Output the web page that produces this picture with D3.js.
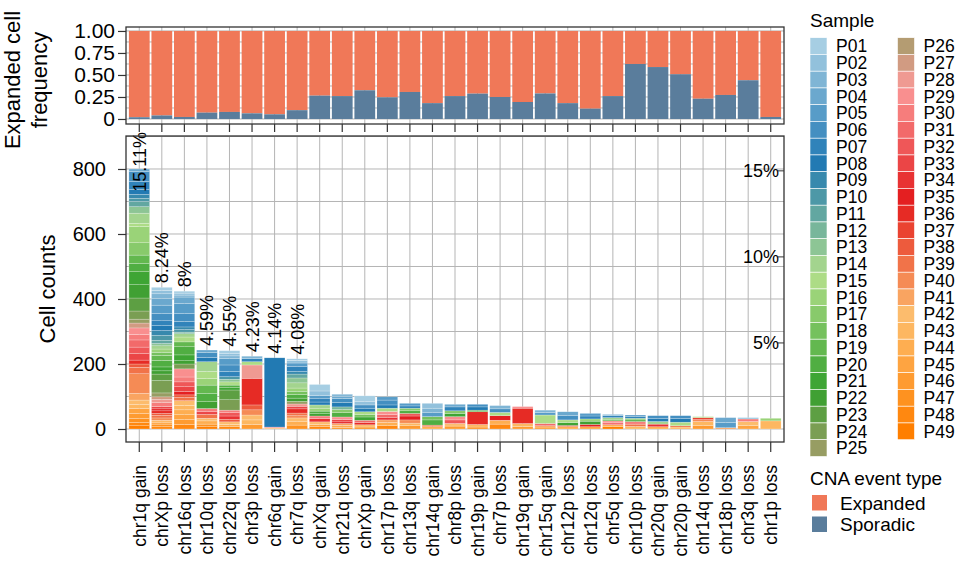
<!DOCTYPE html>
<html><head><meta charset="utf-8">
<script src="https://cdn.jsdelivr.net/npm/d3@7/dist/d3.min.js"></script>
<style>
body{margin:0;background:#fff}
text{font-family:"Liberation Sans",Arial,Helvetica,sans-serif;fill:#000}
</style>
</head><body>
<svg id="chart" width="960" height="568"></svg>
<script>
// ---------------- data ----------------
const events = ["chr1q gain","chrXp loss","chr16q loss","chr10q loss","chr22q loss","chr3p loss","chr6q gain","chr7q loss","chrXq gain","chr21q loss","chrXp gain","chr17p loss","chr13q loss","chr14q gain","chr8p loss","chr19p gain","chr7p loss","chr19q gain","chr15q gain","chr12p loss","chr12q loss","chr5q loss","chr10p loss","chr20q gain","chr20p gain","chr14q loss","chr18p loss","chr3q loss","chr1p loss"];
const sporadicFreq = [0.02,0.04,0.023,0.072,0.08,0.064,0.053,0.10,0.265,0.26,0.326,0.246,0.307,0.18,0.26,0.288,0.25,0.193,0.29,0.18,0.117,0.26,0.625,0.59,0.508,0.23,0.273,0.44,0.023];
const pctLabels = ["15.11%","8.24%","8%","4.59%","4.55%","4.23%","4.14%","4.08%"];
const samples = ["P01","P02","P03","P04","P05","P06","P07","P08","P09","P10","P11","P12","P13","P14","P15","P16","P17","P18","P19","P20","P21","P22","P23","P24","P25","P26","P27","P28","P29","P30","P31","P32","P33","P34","P35","P36","P37","P38","P39","P40","P41","P42","P43","P44","P45","P46","P47","P48","P49"];
const eventTypes = ["Expanded","Sporadic"];
const countTicks = [0,200,400,600,800];
const freqTicks = [0,0.25,0.5,0.75,1];
const freqTickLabels = ["0","0.25","0.50","0.75","1.00"];
const pctAxisTicks = [5,10,15];
const totalCells = 5295;
// cells per sample for each event: [sample number, cell count]
const sampleCounts = [
 [[4,8],[6,30],[7,25],[8,15],[9,12],[10,10],[11,16],[13,20],[14,31],[15,10],[16,50],[17,38],[19,25],[20,26],[21,40],[22,41],[23,40],[24,25],[25,12],[27,15],[29,20],[30,17],[31,22],[32,20],[33,20],[36,12],[38,10],[39,20],[40,60],[41,21],[42,14],[43,12],[45,15],[46,15],[47,13],[48,10],[49,10]],
 [[1,10],[2,10],[3,15],[4,20],[5,25],[6,23],[7,15],[8,15],[9,15],[10,15],[11,10],[13,7],[14,10],[16,10],[18,10],[19,15],[20,20],[21,12],[22,10],[23,20],[24,38],[25,12],[27,8],[28,10],[30,12],[33,7],[35,6],[36,8],[38,6],[39,8],[40,7],[43,6],[45,6],[47,8],[48,7]],
 [[1,6],[2,6],[3,6],[4,20],[5,30],[6,25],[7,17],[9,8],[10,8],[12,5],[14,10],[15,15],[19,15],[20,25],[21,18],[22,10],[24,15],[29,25],[30,15],[32,15],[33,15],[35,10],[38,8],[39,10],[42,15],[43,13],[44,15],[45,15],[46,15],[48,14]],
 [[4,8],[6,15],[8,13],[14,30],[15,22],[16,20],[19,25],[20,26],[22,21],[30,10],[33,8],[39,12],[42,8],[44,10],[47,8],[49,7]],
 [[1,8],[2,8],[3,8],[5,20],[6,20],[7,16],[10,8],[13,8],[15,10],[20,8],[21,7],[23,30],[24,32],[30,8],[32,10],[34,10],[38,8],[42,8],[44,7],[48,7]],
 [[3,7],[7,10],[15,10],[28,41],[36,82],[38,15],[40,16],[42,15],[43,14],[46,14]],
 [[8,213],[29,3],[43,3]],
 [[1,5],[2,8],[5,10],[7,16],[9,8],[11,12],[13,15],[14,16],[16,10],[18,10],[20,11],[22,10],[25,8],[28,7],[33,8],[36,13],[39,8],[40,7],[42,10],[44,12],[47,12]],
 [[1,20],[2,14],[5,10],[7,10],[8,9],[14,10],[16,9],[20,8],[22,7],[30,8],[34,10],[42,8],[45,7],[48,7]],
 [[3,6],[4,7],[6,12],[8,14],[12,8],[17,10],[20,13],[29,8],[33,7],[35,5],[41,6],[44,6],[47,5]],
 [[1,18],[2,10],[6,10],[8,11],[15,8],[18,8],[21,10],[31,7],[36,7],[42,7],[47,6]],
 [[5,10],[6,15],[8,10],[15,10],[29,10],[31,8],[34,8],[41,8],[44,10],[48,10]],
 [[5,8],[7,7],[17,8],[20,8],[32,8],[35,12],[40,10],[43,8],[46,10]],
 [[2,15],[3,14],[5,12],[18,10],[20,16],[39,5],[44,7]],
 [[4,8],[7,12],[17,8],[21,10],[29,10],[32,11],[42,8],[46,9]],
 [[6,8],[8,10],[19,5],[36,39],[43,8],[47,6]],
 [[3,10],[6,11],[15,10],[35,14],[44,12],[48,15]],
 [[29,5],[36,47],[43,9],[46,8]],
 [[3,7],[5,8],[15,26],[31,7],[41,4],[46,6]],
 [[4,12],[6,13],[15,8],[21,9],[35,3],[44,8]],
 [[5,8],[7,9],[16,7],[22,10],[35,7],[45,7]],
 [[3,4],[7,6],[14,5],[19,5],[29,6],[31,6],[44,6],[49,7]],
 [[5,5],[7,5],[17,5],[20,5],[30,8],[39,7],[43,8]],
 [[6,8],[8,10],[14,8],[34,8],[44,7]],
 [[6,9],[8,11],[15,11],[39,4],[43,6]],
 [[15,3],[37,6],[40,6],[43,12],[46,11]],
 [[4,15],[5,16],[41,4]],
 [[2,4],[30,8],[42,12],[45,11]],
 [[16,8],[43,25]]
];

// ---------------- styles ----------------
const paired = ["#A6CEE3","#1F78B4","#B2DF8A","#33A02C","#FB9A99","#E31A1C","#FDBF6F","#FF7F00"];
const ramp = d3.piecewise(d3.interpolateRgb, paired);
const sampleColor = d3.scaleOrdinal().domain(samples).range(samples.map((s,i)=>ramp(i/(samples.length-1))));
const typeColor = d3.scaleOrdinal().domain(eventTypes).range(["#F07858","#5A7D9C"]);
const gridCol = "#b5b5b5", frameCol = "#333";
const FONT = "Liberation Sans, Arial, sans-serif";

const svg = d3.select("#chart");
const L = 126, R = 784;
const x = d3.scaleBand().domain(events).range([L+2, R-2]).paddingInner(0.08).paddingOuter(0.04);

// ---------------- top panel ----------------
const yT = d3.scaleLinear().domain([-0.057, 1.045]).range([124, 27]);
const topG = svg.append("g");
topG.append("g").selectAll("line").data(d3.range(0, 1.001, 0.125)).join("line")
  .attr("x1", L).attr("x2", R).attr("y1", d=>yT(d)).attr("y2", d=>yT(d))
  .attr("stroke", gridCol).attr("stroke-width", 1);
topG.append("g").selectAll("line").data(events).join("line")
  .attr("x1", d=>x(d)+x.bandwidth()/2).attr("x2", d=>x(d)+x.bandwidth()/2)
  .attr("y1", 27).attr("y2", 124).attr("stroke", gridCol).attr("stroke-width", 1);
const topBars = topG.append("g").selectAll("g").data(events).join("g");
topBars.append("rect").attr("x", d=>x(d)).attr("width", x.bandwidth())
  .attr("y", yT(1)).attr("height", (d,i)=>yT(sporadicFreq[i]) - yT(1))
  .attr("fill", typeColor("Expanded"));
topBars.append("rect").attr("x", d=>x(d)).attr("width", x.bandwidth())
  .attr("y", (d,i)=>yT(sporadicFreq[i])).attr("height", (d,i)=>yT(0) - yT(sporadicFreq[i]))
  .attr("fill", typeColor("Sporadic"));
topG.append("rect").attr("x", L).attr("y", 27).attr("width", R-L).attr("height", 97)
  .attr("fill","none").attr("stroke", frameCol).attr("stroke-width", 1.3);
const yAxT = topG.append("g").attr("transform", `translate(${L},0)`)
  .call(d3.axisLeft(yT).tickValues(freqTicks).tickFormat((d,i)=>freqTickLabels[i]).tickSize(8).tickPadding(3));
const xAxT = topG.append("g").attr("transform", `translate(0,124)`)
  .call(d3.axisBottom(x).tickSize(8).tickFormat(""));
[yAxT, xAxT].forEach(a=>{ a.select(".domain").remove(); a.selectAll(".tick line").attr("stroke", frameCol).attr("stroke-width",1.2); });
yAxT.selectAll("text").attr("font-size", 21).attr("fill","#000").style("font-family", FONT);
topG.append("text").attr("transform","translate(20,80) rotate(-90)").attr("text-anchor","middle")
  .attr("font-size", 22).text("Expanded cell");
topG.append("text").attr("transform","translate(47,80) rotate(-90)").attr("text-anchor","middle")
  .attr("font-size", 22).text("frequency");

// ---------------- main panel ----------------
const y = d3.scaleLinear().domain([-40, 901.5]).range([442, 136]);
const mainG = svg.append("g");
mainG.append("g").selectAll("line").data(d3.range(0, 901, 100)).join("line")
  .attr("x1", L).attr("x2", R).attr("y1", d=>y(d)).attr("y2", d=>y(d))
  .attr("stroke", gridCol).attr("stroke-width", 1);
mainG.append("g").selectAll("line").data(events).join("line")
  .attr("x1", d=>x(d)+x.bandwidth()/2).attr("x2", d=>x(d)+x.bandwidth()/2)
  .attr("y1", 136).attr("y2", 442).attr("stroke", gridCol).attr("stroke-width", 1);

const segs = [];
const totals = [];
events.forEach((ev, i)=>{
  const list = sampleCounts[i].slice().sort((a,b)=>b[0]-a[0]); // P49 at bottom
  let cum = 0;
  list.forEach(([s, n])=>{
    segs.push({ev, sample: samples[s-1], y0: cum, y1: cum + n});
    cum += n;
  });
  totals.push(cum);
});
mainG.append("g").selectAll("rect").data(segs).join("rect")
  .attr("x", d=>x(d.ev)).attr("width", x.bandwidth())
  .attr("y", d=>y(d.y1)).attr("height", d=>y(d.y0)-y(d.y1))
  .attr("fill", d=>sampleColor(d.sample))
  .attr("stroke", "#fff").attr("stroke-opacity", 0.45).attr("stroke-width", 0.5);

// percentage labels
mainG.append("g").selectAll("text").data(pctLabels).join("text")
  .attr("font-size", 18)
  .text(d=>d)
  .attr("transform", function(d,i){
    const len = this.getComputedTextLength();
    let y0 = y(totals[i]) - 4;
    if (y0 - len < 136) y0 = 136 + len - 4;
    return `translate(${x(events[i])+x.bandwidth()/2},${y0}) rotate(-90)`;
  })
  .attr("dy","0.36em");

// right percentage axis
const pg = mainG.append("g");
pctAxisTicks.forEach(p=>{
  const yy = y(p/100*totalCells);
  pg.append("line").attr("x1", R-6).attr("x2", R).attr("y1", yy).attr("y2", yy).attr("stroke", frameCol);
  pg.append("text").attr("x", R-5).attr("y", yy).attr("dy","0.36em").attr("text-anchor","end")
    .attr("font-size", 18).text(p+"%");
});

mainG.append("rect").attr("x", L).attr("y", 136).attr("width", R-L).attr("height", 306)
  .attr("fill","none").attr("stroke", frameCol).attr("stroke-width", 1.3);
const yAx = mainG.append("g").attr("transform", `translate(${L},0)`)
  .call(d3.axisLeft(y).tickValues(countTicks).tickSize(8).tickPadding(12));
const xAx = mainG.append("g").attr("transform", `translate(0,442)`)
  .call(d3.axisBottom(x).tickSize(10));
[yAx, xAx].forEach(a=>{ a.select(".domain").remove(); a.selectAll(".tick line").attr("stroke", frameCol).attr("stroke-width",1.2); });
yAx.selectAll("text").attr("font-size", 20).attr("fill","#000").style("font-family", FONT);
xAx.selectAll("text").attr("font-size", 17.5).attr("fill","#000").style("font-family", FONT)
  .attr("text-anchor","end").attr("transform","rotate(-90)")
  .attr("x", -23).attr("y", 0).attr("dy","0.36em");
mainG.append("text").attr("transform","translate(47,289) rotate(-90)").attr("text-anchor","middle")
  .attr("dy","0.36em").attr("font-size", 22).text("Cell counts");

// ---------------- legends ----------------
const lg = svg.append("g");
lg.append("text").attr("x", 810).attr("y", 27).attr("font-size", 19).text("Sample");
const rowH = 16.75;
samples.forEach((s,i)=>{
  const col = i < 25 ? 0 : 1;
  const row = i < 25 ? i : i - 25;
  const bx = col ? 897.5 : 810;
  const by = 37.7 + row*rowH;
  lg.append("rect").attr("x", bx).attr("y", by).attr("width", 17).attr("height", rowH)
    .attr("fill", sampleColor(s)).attr("stroke","#fff").attr("stroke-width",0.6);
  lg.append("text").attr("x", bx + 26).attr("y", by + rowH/2).attr("dy","0.36em")
    .attr("font-size", 17.5).text(s);
});
lg.append("text").attr("x", 810).attr("y", 485).attr("font-size", 19).text("CNA event type");
eventTypes.forEach((t,i)=>{
  const by = 495 + i*21.5;
  lg.append("rect").attr("x", 812).attr("y", by).attr("width", 15).attr("height", 15.5).attr("fill", typeColor(t));
  lg.append("text").attr("x", 840).attr("y", by + 8).attr("dy","0.36em").attr("font-size", 19).text(t);
});
</script>
</body></html>
